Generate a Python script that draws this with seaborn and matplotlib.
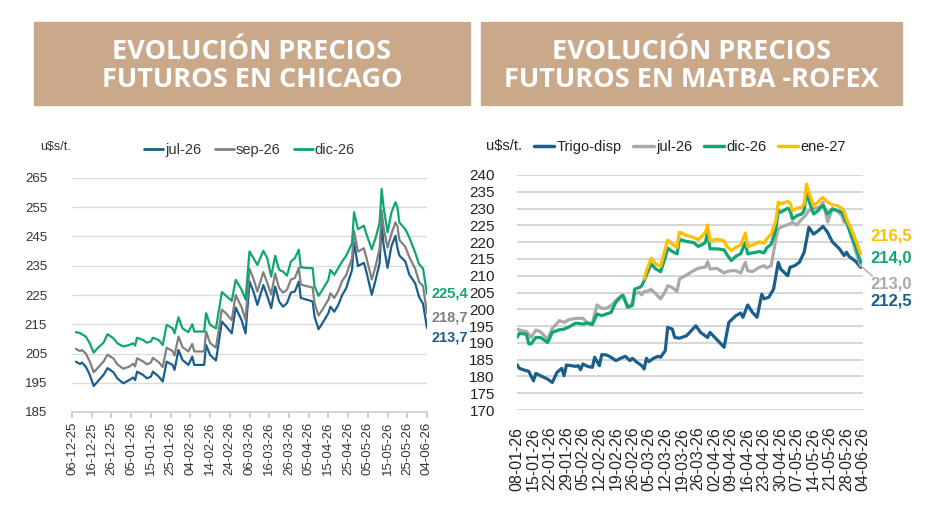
import pandas as pd
import seaborn as sns
import matplotlib.pyplot as plt
import matplotlib.dates as mdates
from matplotlib.patches import Rectangle
from matplotlib.lines import Line2D

# ---- Chicago (u$s/t), days counted from 06-12-25 ----
inicio_chi = pd.Timestamp('2025-12-06')
dias_chi = [2, 4, 5, 7, 9, 11, 13, 16, 18, 21, 23, 26, 29, 31, 32, 33, 36, 38, 40, 41,
            44, 46, 48, 51, 52, 54, 56, 59, 61, 62, 67, 68, 70, 73, 76, 78, 81, 83, 86, 88,
            90, 92, 94, 97, 99, 101, 103, 105, 107, 109, 111, 113, 115, 116, 119, 122, 123, 125, 127, 130,
            131, 133, 135, 137, 139, 142, 143, 145, 148, 149, 152, 154, 156, 157, 158, 160, 162, 164, 165, 166,
            169, 171, 174, 176, 178, 180]
chi_jul26 = [202.2, 201.4, 201.9, 200.5, 197.7, 193.9, 195.4, 197.7, 200.0, 198.6, 196.5, 194.8, 195.9, 196.8, 195.9, 198.8, 197.7, 196.5, 197.1, 198.8,
             197.1, 195.4, 202.2, 201.1, 199.4, 206.2, 202.8, 201.1, 203.9, 201.1, 201.1, 207.9, 204.5, 202.6, 215.9, 214.4, 211.9, 220.7, 216.4, 211.9,
             229.6, 226.2, 221.6, 228.4, 224.7, 220.5, 227.9, 222.8, 221.0, 222.2, 225.8, 226.2, 229.6, 224.0, 223.4, 222.8, 217.6, 213.3, 215.4, 218.8,
             221.0, 219.3, 221.6, 225.0, 227.3, 233.6, 243.0, 234.9, 236.0, 233.7, 225.1, 230.3, 236.0, 249.7, 242.0, 234.3, 241.8, 245.2, 241.0, 238.5,
             236.5, 232.0, 229.0, 224.3, 222.0, 213.7]
chi_sep26 = [206.6, 205.8, 206.2, 205.0, 202.3, 198.6, 200.0, 202.3, 204.6, 203.3, 201.3, 199.8, 200.5, 201.5, 200.6, 203.4, 202.3, 201.3, 201.9, 203.5,
             202.0, 200.4, 207.0, 205.8, 204.3, 210.8, 207.2, 205.7, 208.3, 205.7, 205.7, 212.5, 208.6, 207.0, 220.0, 218.8, 216.4, 225.0, 220.8, 216.5,
             234.0, 230.6, 226.2, 232.8, 229.2, 225.2, 232.4, 227.4, 225.8, 226.8, 230.3, 230.8, 234.3, 228.6, 228.0, 227.6, 222.2, 218.0, 220.0, 223.4,
             225.6, 224.0, 226.4, 229.8, 231.8, 237.6, 247.0, 239.8, 241.0, 238.5, 230.3, 235.0, 241.0, 253.9, 248.0, 241.2, 246.0, 249.8, 248.5, 243.8,
             241.5, 238.0, 234.0, 229.5, 228.0, 218.7]
chi_dic26 = [212.3, 212.0, 211.6, 210.8, 208.5, 205.3, 206.8, 208.7, 211.6, 210.2, 208.5, 207.4, 207.9, 208.5, 207.7, 210.4, 209.6, 208.7, 209.1, 210.4,
             209.6, 207.9, 214.8, 213.6, 211.9, 217.4, 213.6, 212.3, 215.0, 212.5, 212.5, 218.8, 214.8, 213.6, 226.0, 224.8, 223.0, 230.2, 226.8, 223.5,
             239.9, 237.6, 235.3, 240.1, 237.6, 231.3, 238.4, 233.6, 233.0, 231.6, 236.5, 237.6, 240.5, 234.5, 234.2, 234.2, 227.9, 224.7, 226.8, 230.2,
             233.6, 231.9, 234.2, 236.5, 238.4, 242.7, 253.3, 247.5, 248.7, 246.4, 240.6, 244.7, 249.8, 261.3, 255.0, 246.4, 253.3, 256.7, 255.0, 249.8,
             247.5, 244.7, 239.5, 235.5, 234.0, 225.4]

# ---- MATba-Rofex (u$s/t), days counted from 08-01-26 ----
inicio_mat = pd.Timestamp('2026-01-08')
dias_disp = [0, 1, 3, 5, 7, 8, 10, 13, 15, 17, 19, 20, 21, 23, 25, 26, 27, 28, 30, 32,
             33, 35, 36, 38, 40, 42, 44, 46, 48, 49, 51, 53, 54, 55, 56, 58, 60, 61, 63, 64,
             66, 67, 69, 72, 76, 78, 81, 82, 88, 90, 93, 95, 96, 98, 100, 102, 104, 105, 107, 109,
             111, 112, 115, 116, 118, 120, 122, 124, 126, 128, 130, 132, 133, 134, 137, 139, 140, 141, 144, 146]
mat_disp = [183.5, 182.4, 181.9, 181.5, 178.7, 180.9, 180.2, 179.2, 178.2, 181.2, 182.4, 180.2, 183.4, 183.2, 183.0, 183.2, 182.0, 183.7, 183.0, 182.7,
            185.7, 183.2, 186.5, 186.4, 185.7, 184.7, 185.4, 186.0, 184.7, 185.4, 184.2, 183.2, 182.2, 185.4, 184.4, 185.4, 186.0, 185.7, 187.7, 194.6,
            194.1, 191.6, 191.4, 192.1, 195.1, 193.1, 191.6, 193.1, 188.7, 196.1, 198.1, 198.9, 197.6, 201.3, 199.1, 197.6, 204.5, 203.1, 203.6, 206.0,
            214.0, 212.0, 210.0, 212.5, 213.0, 214.0, 217.0, 224.4, 222.4, 223.4, 224.7, 222.9, 221.4, 220.1, 218.0, 216.0, 217.0, 215.8, 214.2, 212.5]

dias_mat = [0, 1, 4, 5, 6, 8, 10, 13, 15, 18, 20, 22, 25, 28, 30, 32, 34, 36, 38, 40,
            42, 44, 45, 47, 49, 50, 52, 53, 54, 55, 57, 59, 61, 63, 64, 66, 68, 69, 72, 75,
            77, 79, 80, 81, 82, 85, 88, 89, 91, 93, 95, 97, 98, 100, 103, 105, 106, 108, 110, 111,
            112, 115, 116, 117, 119, 121, 122, 123, 124, 126, 128, 129, 130, 132, 134, 136, 138, 139, 140, 142,
            144, 146]
mat_jul26 = [194.1, 193.8, 193.4, 192.6, 191.6, 193.8, 193.3, 191.1, 194.3, 196.6, 196.1, 196.9, 197.3, 197.3, 195.9, 195.9, 201.3, 200.3, 200.3, 201.1,
             202.6, 203.9, 204.3, 200.9, 201.6, 204.6, 205.1, 204.3, 205.3, 205.3, 205.9, 204.6, 203.1, 205.3, 207.0, 206.5, 205.3, 209.0, 210.2, 211.5,
             212.2, 212.5, 212.5, 214.2, 212.0, 212.2, 210.8, 211.2, 211.5, 211.5, 210.8, 214.0, 211.5, 211.2, 212.5, 213.0, 212.3, 213.0, 221.0, 223.9,
             224.4, 225.2, 225.4, 225.9, 225.1, 226.9, 227.5, 228.4, 229.4, 229.9, 230.3, 230.7, 231.9, 226.0, 229.9, 229.4, 227.9, 225.9, 226.9, 221.9,
             217.0, 213.0]
mat_dic26 = [191.6, 192.8, 192.6, 189.7, 189.7, 191.6, 191.6, 190.1, 193.1, 193.9, 194.1, 194.7, 195.9, 195.6, 195.9, 195.4, 198.6, 198.1, 198.6, 199.1,
             202.1, 203.6, 204.1, 200.6, 201.1, 206.0, 206.5, 207.0, 208.5, 210.2, 213.5, 212.0, 211.2, 215.5, 218.2, 217.2, 216.5, 220.8, 220.2, 219.9,
             218.7, 219.4, 219.9, 222.9, 218.0, 218.0, 217.7, 216.5, 214.5, 215.8, 216.5, 219.9, 216.5, 216.8, 217.2, 216.8, 218.2, 219.4, 223.9, 229.4,
             228.9, 230.1, 229.4, 226.9, 227.9, 228.4, 229.4, 235.3, 232.4, 228.4, 229.4, 230.4, 230.9, 228.4, 229.9, 229.4, 228.9, 227.4, 225.9, 221.9,
             218.4, 214.0]
inicio_ene27 = 54  # ene-27 quoted from this day on
mat_ene27 = [209.0, 211.5, 215.2, 213.5, 212.8, 218.0, 220.6, 219.4, 218.4, 223.0, 222.0, 221.4,
             220.7, 222.1, 222.9, 225.1, 220.4, 220.9, 220.4, 218.9, 217.5, 218.5, 219.1, 222.7, 218.7, 219.1, 220.1, 219.7, 220.9, 222.4, 226.4, 231.9,
             231.4, 232.1, 231.7, 229.4, 230.1, 230.4, 231.4, 237.3, 234.8, 230.9, 231.9, 232.9, 233.3, 231.9, 231.1, 230.9, 230.1, 229.1, 226.9, 223.9,
             220.4, 216.5]

BEIGE = '#C9A98A'
AZUL = '#1A5F8C'
GRIS_CHI = '#808080'
VERDE = '#10A574'
GRIS_MAT = '#AAAAAA'
AMARILLO = '#FFBF00'

sns.set_theme(style='white')
plt.rcParams['font.family'] = ['Liberation Sans', 'DejaVu Sans']

fig = plt.figure(figsize=(9.38, 5.30), dpi=100)

# title boxes
for x0, x1, lineas in [(34, 470, 'EVOLUCIÓN PRECIOS\nFUTUROS EN CHICAGO'),
                       (481, 902, 'EVOLUCIÓN PRECIOS\nFUTUROS EN MATBA -ROFEX')]:
    fig.patches.append(Rectangle((x0 / 938, 1 - 105 / 530), (x1 - x0) / 938, 83 / 530,
                                 transform=fig.transFigure, color=BEIGE, zorder=0))
    fig.text((x0 + x1) / 2 / 938, 1 - 66 / 530, lineas, ha='center', va='center',
             color='white', fontsize=19.5, fontweight='bold', family='Open Sans',
             linespacing=1.1)


def fechas(inicio, dias):
    return [inicio + pd.Timedelta(days=d) for d in dias]


def estilo(ax, grid_color, grid_lw):
    ax.grid(axis='y', color=grid_color, linewidth=grid_lw)
    ax.grid(axis='x', visible=False)
    for s in ['top', 'right', 'left']:
        ax.spines[s].set_visible(False)
    ax.set_xlabel('')
    ax.set_ylabel('')


# ---- left: Chicago ----
ax1 = fig.add_axes([72 / 938, 1 - 412 / 530, 355 / 938, 234 / 530])
x_chi = fechas(inicio_chi, dias_chi)
series_chi = [('jul-26', chi_jul26, AZUL), ('sep-26', chi_sep26, GRIS_CHI), ('dic-26', chi_dic26, VERDE)]
for nombre, vals, color in series_chi:
    sns.lineplot(x=x_chi, y=vals, ax=ax1, color=color, linewidth=1.6)
estilo(ax1, '#DCDCDC', 1.0)
ax1.spines['bottom'].set_color('#D0D0D0')
ax1.set_ylim(185, 265)
ax1.set_yticks(range(185, 266, 10))
ax1.set_xlim(inicio_chi, pd.Timestamp('2026-06-04'))
ax1.set_xticks(pd.date_range('2025-12-06', '2026-06-04', freq='10D'))
ax1.xaxis.set_major_formatter(mdates.DateFormatter('%d-%m-%y'))
ax1.tick_params(axis='x', rotation=90, labelsize=9.5, bottom=True, length=4, color='#C8C8C8',
                pad=3, labelcolor='#333333')
ax1.tick_params(axis='y', labelsize=9.5, pad=12, left=False, labelcolor='#333333')
ax1.text(-0.09, 1.132, 'u$s/t.', transform=ax1.transAxes, fontsize=9, color='#333333',
         ha='left', va='center')
ax1.legend(handles=[Line2D([], [], color=c, lw=2) for _, _, c in series_chi],
           labels=[n for n, _, _ in series_chi], loc='center', bbox_to_anchor=(0.5, 1.12),
           ncol=3, frameon=False, fontsize=10.5, handlelength=1.3, handletextpad=0.15,
           columnspacing=0.9, labelcolor='#333333')
desplaz_chi = [(3, -7), (3, -3), (3, 0)]
for (nombre, vals, color), (dx, dy) in zip(series_chi, desplaz_chi):
    ax1.annotate(f'{vals[-1]:.1f}'.replace('.', ','), xy=(x_chi[-1], vals[-1]),
                 xytext=(dx, dy), textcoords='offset points', color=color,
                 fontsize=10.5, fontweight='bold', ha='left', va='center')

# ---- right: MATba-Rofex ----
ax2 = fig.add_axes([517 / 938, 1 - 410 / 530, 346 / 938, 235 / 530])
x_disp = fechas(inicio_mat, dias_disp)
x_mat = fechas(inicio_mat, dias_mat)
x_ene = x_mat[dias_mat.index(inicio_ene27):]
series_mat = [('Trigo-disp', x_disp, mat_disp, AZUL), ('jul-26', x_mat, mat_jul26, GRIS_MAT),
              ('dic-26', x_mat, mat_dic26, VERDE), ('ene-27', x_ene, mat_ene27, AMARILLO)]
for nombre, xs, vals, color in series_mat:
    sns.lineplot(x=xs, y=vals, ax=ax2, color=color, linewidth=2.3)
estilo(ax2, '#D6D6D6', 1.4)
ax2.spines['bottom'].set_visible(False)
ax2.set_ylim(170, 240)
ax2.set_yticks(range(170, 241, 5))
ax2.set_xlim(inicio_mat, pd.Timestamp('2026-06-04'))
ax2.set_xticks(pd.date_range('2026-01-08', '2026-06-04', freq='7D'))
ax2.xaxis.set_major_formatter(mdates.DateFormatter('%d-%m-%y'))
ax2.tick_params(axis='x', rotation=90, labelsize=11.5, bottom=False, pad=6, labelcolor='#222222')
ax2.tick_params(axis='y', labelsize=11, pad=10, left=False, labelcolor='#222222')
ax2.text(-0.09, 1.123, 'u$s/t.', transform=ax2.transAxes, fontsize=10.5, color='#222222',
         ha='left', va='center')
ax2.legend(handles=[Line2D([], [], color=c, lw=2.5) for _, _, _, c in series_mat],
           labels=[n for n, _, _, _ in series_mat], loc='center', bbox_to_anchor=(0.5, 1.119),
           ncol=4, frameon=False, fontsize=10.5, handlelength=1.4, handletextpad=0.15,
           columnspacing=0.8, labelcolor='#222222')
desplaz_mat = [(7, -24), (7, -13), (7, 3), (7, 13)]
for (nombre, xs, vals, color), (dx, dy) in zip(series_mat, desplaz_mat):
    ax2.annotate(f'{vals[-1]:.1f}'.replace('.', ','), xy=(xs[-1], vals[-1]),
                 xytext=(dx, dy), textcoords='offset points', color=color,
                 fontsize=12, fontweight='bold', ha='left', va='center')
# leader line of the jul-26 label
ax2.annotate('', xy=(x_mat[-1], mat_jul26[-1]), xytext=(10, -9), textcoords='offset points',
             arrowprops=dict(arrowstyle='-', color=GRIS_MAT, lw=1))

fig.savefig('out.png', dpi=100)
